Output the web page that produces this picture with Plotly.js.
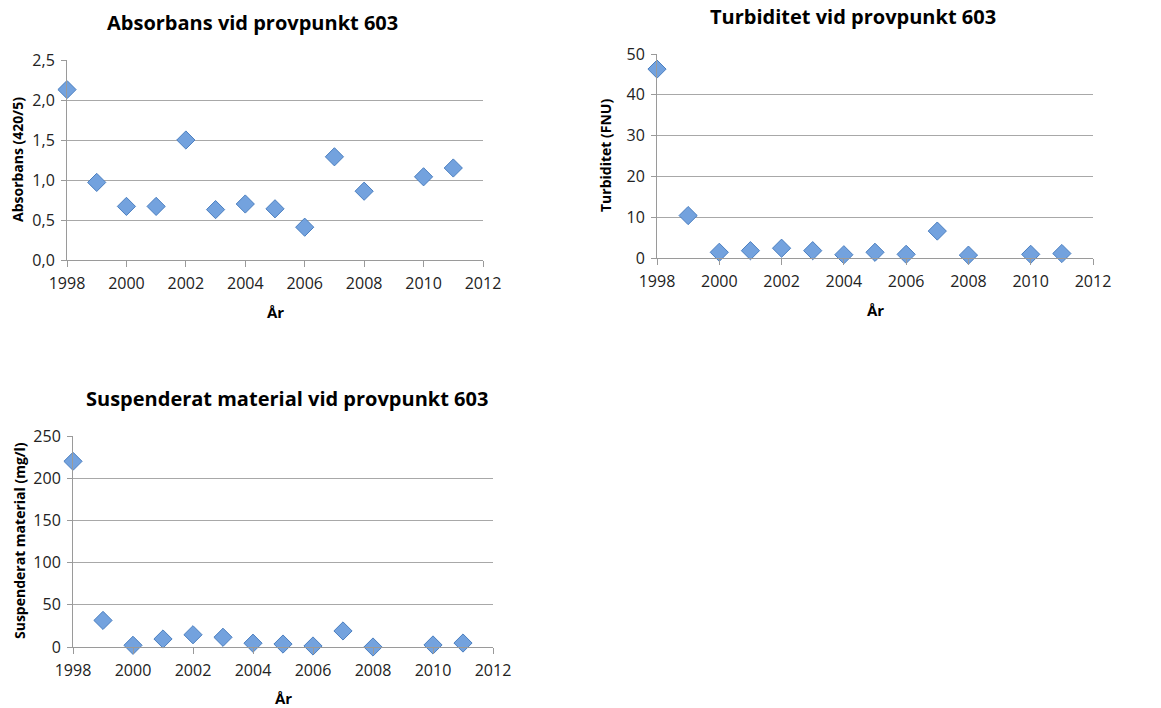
<!DOCTYPE html>
<html>
<head>
<meta charset="utf-8">
<script src="https://cdn.plot.ly/plotly-3.0.1.min.js"></script>
<style>html,body{margin:0;padding:0;background:#fff;}#chart{width:1161px;height:708px;}</style>
</head>
<body>
<div id="chart"></div>
<script>
const years = [1998, 1999, 2000, 2001, 2002, 2003, 2004, 2005, 2006, 2007, 2008, 2010, 2011];
const absorbans = [2.13, 0.97, 0.67, 0.67, 1.50, 0.63, 0.70, 0.64, 0.41, 1.29, 0.86, 1.04, 1.15];
const turbiditet = [46.3, 10.4, 1.4, 1.8, 2.4, 1.8, 0.8, 1.4, 0.9, 6.6, 0.7, 0.9, 1.1];
const suspenderat = [220, 31.5, 2, 9.5, 14.5, 11.5, 4.5, 3.5, 1.2, 19, 0, 2.4, 4.7];

const titles = ["Absorbans vid provpunkt 603", "Turbiditet vid provpunkt 603", "Suspenderat material vid provpunkt 603"];
const yTitles = ["Absorbans (420/5)", "Turbiditet (FNU)", "Suspenderat material (mg/l)"];
const xTitle = "År";
const yTicks1 = [0, 0.5, 1.0, 1.5, 2.0, 2.5];
const yTicks2 = [0, 10, 20, 30, 40, 50];
const yTicks3 = [0, 50, 100, 150, 200, 250];
const xTicks = [1998, 2000, 2002, 2004, 2006, 2008, 2010, 2012];

const W = 1161, H = 708;
const FONT = "Open Sans, sans-serif";
const marker = {symbol: "diamond", size: 14, color: "#73a2de", line: {color: "#4b7fc0", width: 1}};

function tr(y, xa, ya) {
  return {x: years, y: y, xaxis: xa, yaxis: ya, type: "scatter", mode: "markers",
    marker: marker, cliponaxis: false, hoverinfo: "x+y"};
}
const data = [tr(absorbans, "x", "y"), tr(turbiditet, "x2", "y2"), tr(suspenderat, "x3", "y3")];

// plot boxes in pixels [left, top, right, bottom]
const boxes = [[67, 60, 483, 260], [657, 54, 1093, 258], [73, 436, 493, 647]];

function xax(i) {
  const b = boxes[i];
  return {domain: [b[0] / W, b[2] / W], range: [1998, 2012], tickvals: xTicks, ticks: "outside",
    ticklen: 6, tickcolor: "#9a9a9a", showgrid: false, zeroline: false, showline: true,
    linecolor: "#9a9a9a", linewidth: 1, anchor: i === 0 ? "y" : "y" + (i + 1),
    ticklabelstandoff: 3,
    tickfont: {family: FONT, size: 16, color: "#222"}, fixedrange: true};
}
function yax(i, ticks, fmt) {
  const b = boxes[i];
  return {domain: [1 - b[3] / H, 1 - b[1] / H], range: [ticks[0], ticks[ticks.length - 1]],
    tickvals: ticks, tickformat: fmt, ticks: "outside", ticklen: 5, tickcolor: "#9a9a9a",
    showgrid: true, gridcolor: "#a8a8a8", gridwidth: 1, zeroline: false, showline: true,
    linecolor: "#9a9a9a", linewidth: 1, anchor: i === 0 ? "x" : "x" + (i + 1),
    ticklabelstandoff: 3,
    tickfont: {family: FONT, size: 16, color: "#222"}, fixedrange: true};
}

const ann = [];
const titlePos = [[252, 23], [853, 17], [287, 398]];
const yTitlePos = [[17, 160], [606, 156], [19, 541]];
const xTitlePos = [[275, 312], [875, 310], [283, 698]];
for (let i = 0; i < 3; i++) {
  ann.push({text: "<b>" + titles[i] + "</b>", xref: "paper", yref: "paper",
    x: titlePos[i][0] / W, y: 1 - titlePos[i][1] / H, xanchor: "center", yanchor: "middle",
    showarrow: false, font: {family: FONT, size: 20, color: "#000"}});
  ann.push({text: "<b>" + yTitles[i] + "</b>", xref: "paper", yref: "paper",
    x: yTitlePos[i][0] / W, y: 1 - yTitlePos[i][1] / H, xanchor: "center", yanchor: "middle",
    textangle: -90, showarrow: false, font: {family: FONT, size: 14, color: "#000"}});
  ann.push({text: "<b>" + xTitle + "</b>", xref: "paper", yref: "paper",
    x: xTitlePos[i][0] / W, y: 1 - xTitlePos[i][1] / H, xanchor: "center", yanchor: "middle",
    showarrow: false, font: {family: FONT, size: 15, color: "#000"}});
}

const layout = {
  width: W, height: H, margin: {l: 0, r: 0, t: 0, b: 0},
  paper_bgcolor: "#fff", plot_bgcolor: "#fff", showlegend: false, separators: ", ",
  xaxis: xax(0), xaxis2: xax(1), xaxis3: xax(2),
  yaxis: yax(0, yTicks1, ".1f"), yaxis2: yax(1, yTicks2, "d"), yaxis3: yax(2, yTicks3, "d"),
  annotations: ann
};
Plotly.newPlot("chart", data, layout, {displayModeBar: false, staticPlot: true});
</script>
</body>
</html>
